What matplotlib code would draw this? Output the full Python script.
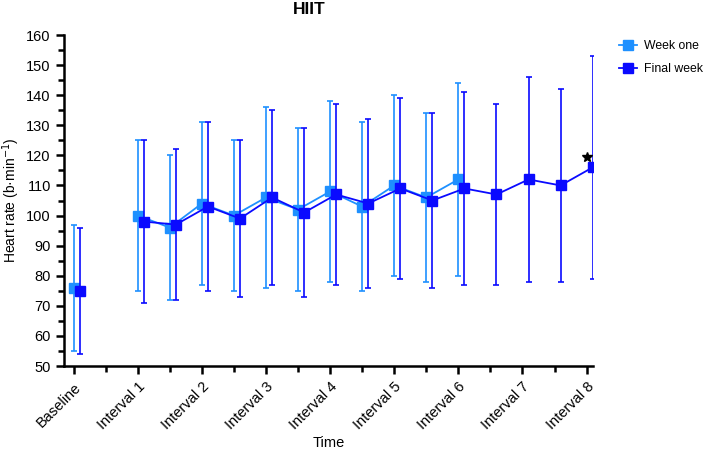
import matplotlib
matplotlib.use("Agg")
import matplotlib.pyplot as plt
from matplotlib.lines import Line2D
import numpy as np

plt.rcParams['font.family'] = ['Liberation Sans', 'DejaVu Sans']

tick_labels = ["Baseline", "Interval 1", "Interval 2", "Interval 3", "Interval 4",
               "Interval 5", "Interval 6", "Interval 7", "Interval 8"]

week_one_pos = [0, 2, 3, 4, 5, 6, 7, 8, 9, 10, 11, 12]
week_one_mean = [76, 100, 96, 104, 100, 106, 102, 108, 103, 110, 106, 112]
week_one_sd = [21, 25, 24, 27, 25, 30, 27, 30, 28, 30, 28, 32]

final_pos = [0, 2, 3, 4, 5, 6, 7, 8, 9, 10, 11, 12, 13, 14, 15, 16]
final_mean = [75, 98, 97, 103, 99, 106, 101, 107, 104, 109, 105, 109, 107, 112, 110, 116]
final_sd = [21, 27, 25, 28, 26, 29, 28, 30, 28, 30, 29, 32, 30, 34, 32, 37]

star_pos = 16
star_value = 119.5

c1 = '#1E90FF'
c2 = '#0A0AFF'
offset = 0.19

fig = plt.figure(figsize=(7.09, 4.5), dpi=100)
ax = fig.add_axes([64/709, 1 - 366/450, (593-64)/709, (366-35)/450])

def draw(pos, mean, sd, color, z, dx):
    x = np.array(pos, dtype=float) + dx
    m = np.array(mean, dtype=float)
    e = np.array(sd, dtype=float)
    ax.errorbar(x, m, yerr=e, color=color, marker='s', markersize=6.5,
                linestyle='none', elinewidth=1.2, capsize=2.3, capthick=1.2,
                zorder=z)
    # connecting line: baseline is not joined to the intervals
    ax.plot(x[1:], m[1:], color=color, linewidth=1.3, zorder=z - 0.5)

draw(week_one_pos, week_one_mean, week_one_sd, c1, 3, 0.0)
draw(final_pos, final_mean, final_sd, c2, 4, offset)
ax.plot([star_pos], [star_value], marker='*', color='black', markersize=7,
        linestyle='none', zorder=5, clip_on=False)

ax.set_xlim(-0.3, 16.2)
ax.set_ylim(50, 160)
ax.set_yticks(np.arange(50, 161, 10))
ax.set_yticks(np.arange(50, 161, 5), minor=True)
ax.set_xticks(np.arange(0, 17, 2))
ax.set_xticks(np.arange(1, 17, 2), minor=True)
ax.set_xticklabels(tick_labels, rotation=45, ha='right', rotation_mode='anchor')

for s in ['top', 'right']:
    ax.spines[s].set_visible(False)
for s in ['left', 'bottom']:
    ax.spines[s].set_linewidth(1.8)
ax.tick_params(axis='both', which='major', length=6, width=1.8, labelsize=10.5, direction='out')
ax.tick_params(axis='both', which='minor', length=4, width=1.8, direction='out')
ax.tick_params(axis='x', pad=4)

ax.set_ylabel('Heart rate (b\u00b7min$^{-1}$)', fontsize=10, labelpad=3)
ax.set_xlabel('Time', fontsize=10.5, labelpad=2.5)

fig.text(309/709, 1 - 10/450, 'HIIT', fontsize=12.5, fontweight='bold', ha='center', va='center')

handles = [Line2D([], [], color=c1, marker='s', markersize=6.5, linewidth=1.3),
           Line2D([], [], color=c2, marker='s', markersize=6.5, linewidth=1.3)]
ax.legend(handles, ['Week one', 'Final week'], loc='upper left',
          bbox_to_anchor=(1.04, 1.0), frameon=False, fontsize=8.8,
          handlelength=1.5, handletextpad=0.55, labelspacing=0.95, borderaxespad=0)

fig.savefig('out.png', dpi=100)
